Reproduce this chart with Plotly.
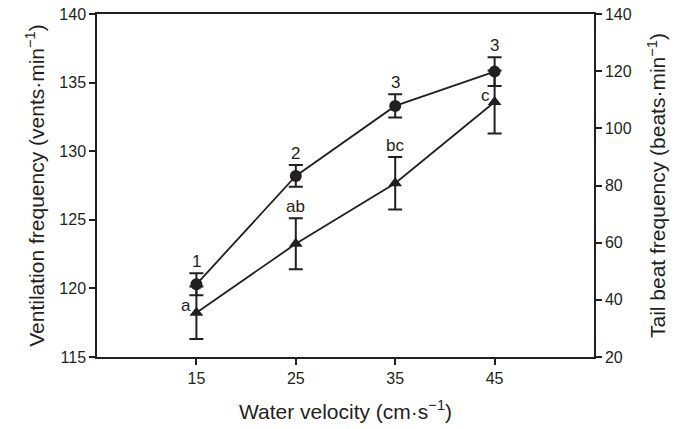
import plotly.graph_objects as go

velocity = [15, 25, 35, 45]
vent_mean = [120.3, 128.2, 133.3, 135.8]
vent_se = [0.8, 0.8, 0.85, 1.05]
vent_labels = ["1", "2", "3", "3"]
tail_mean = [35.5, 59.6, 80.8, 109.2]
tail_se = [9.2, 8.9, 9.2, 11.0]
tail_labels = ["a", "ab", "bc", "c"]
tail_label_side = ["left", "top", "top", "left"]

FONT = "Liberation Sans, Arial, Helvetica, sans-serif"
INK = "#231f20"
TICK = 16
ANN = 17
TITLE = 21

fig = go.Figure()
fig.add_trace(go.Scatter(
    x=velocity, y=tail_mean, yaxis="y2", mode="lines+markers",
    line=dict(color=INK, width=1.8),
    marker=dict(symbol="triangle-up", size=12, color=INK),
    error_y=dict(type="data", array=tail_se, visible=True, color=INK, thickness=2, width=7),
    showlegend=False,
))
fig.add_trace(go.Scatter(
    x=velocity, y=vent_mean, yaxis="y", mode="lines+markers",
    line=dict(color=INK, width=1.8),
    marker=dict(symbol="circle", size=12, color=INK),
    error_y=dict(type="data", array=vent_se, visible=True, color=INK, thickness=2, width=7),
    showlegend=False,
))

annotations = []
for xv, m, s, t in zip(velocity, vent_mean, vent_se, vent_labels):
    annotations.append(dict(x=xv, y=m + s, xref="x", yref="y", text=t, showarrow=False,
                            yanchor="bottom", yshift=0, font=dict(size=ANN, color=INK, family=FONT)))
for xv, m, s, t, side in zip(velocity, tail_mean, tail_se, tail_labels, tail_label_side):
    if side == "top":
        annotations.append(dict(x=xv, y=m + s, xref="x", yref="y2", text=t, showarrow=False,
                                yanchor="bottom", yshift=0, font=dict(size=ANN, color=INK, family=FONT)))
    else:
        annotations.append(dict(x=xv, y=m, xref="x", yref="y2", text=t, showarrow=False,
                                xanchor="right", xshift=-3, yshift=7,
                                font=dict(size=ANN, color=INK, family=FONT)))

common = dict(ticks="outside", ticklen=6, tickwidth=1.5, tickcolor=INK, showline=True,
              linecolor=INK, linewidth=1.5, showgrid=False, zeroline=False,
              tickfont=dict(size=TICK, color=INK), automargin=False)

fig.update_layout(
    width=684, height=429,
    margin=dict(l=97, r=90, t=14, b=72),
    plot_bgcolor="white", paper_bgcolor="white",
    font=dict(family=FONT, color=INK, size=TICK),
    xaxis=dict(
        range=[5, 55], tickvals=velocity, mirror=True, **common,
        title=dict(text="Water velocity (cm·s<sup>−1</sup>)", font=dict(size=TITLE), standoff=18),
    ),
    yaxis=dict(
        range=[115, 140], dtick=5, **common,
        title=dict(text="Ventilation frequency (vents·min<sup>−1</sup>)", font=dict(size=TITLE), standoff=9),
    ),
    yaxis2=dict(
        range=[20, 140], dtick=20, overlaying="y", side="right", **common,
        title=dict(text="Tail beat frequency (beats·min<sup>−1</sup>)", font=dict(size=TITLE), standoff=20),
    ),
    annotations=annotations,
)

fig.write_html("out.html")
